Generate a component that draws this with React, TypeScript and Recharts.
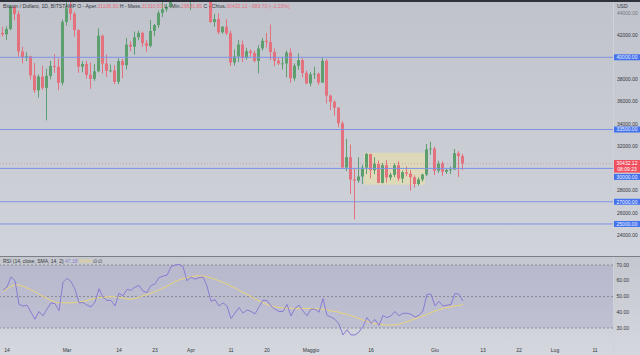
import React from 'react';
import { ComposedChart, Bar, Line, XAxis, YAxis, ReferenceLine, ReferenceArea } from 'recharts';

// Daily candles, 13 Feb 2022 (index 0) .. 8 Jun 2022 (index 115)
const opens = [
  42200, 42060, 42550, 44560, 43890, 40530, 40000, 40090, 38380, 37030, 38260, 37250, 38330, 39230, 39140, 37710,
  43190, 44420, 43920, 42450, 39150, 39400, 38420, 38060, 38740, 41940, 39440, 38790, 38820, 37790, 39670, 39290,
  41140, 40950, 41800, 42200, 41270, 41020, 42370, 42900, 44000, 44330, 44540, 46830, 47130, 47460, 47060,
  45540, 46290, 45820, 46420, 46620, 45500, 43170, 43440, 42250, 42750, 42160, 39530, 40080, 41150, 39940, 40550,
  40390, 39680, 40800, 41490, 41370, 40480, 39700, 39450, 39450, 40430, 38110, 39240, 39740, 38590,
  37650, 38470, 38520, 37720, 39690, 36550, 36000, 35470, 34060, 30080, 31010, 29000, 28900, 29270, 30070, 31300,
  29840, 30420, 28700, 30290, 29180, 29430, 30280, 29090, 29650, 29530, 29200, 28600, 29000, 29450, 31720,
  31790, 29800, 30450, 29700, 29860, 29900, 31370, 31108.3,
];
const highs = [
  42750, 42790, 44730, 44580, 44160, 40950, 40440, 40140, 39480, 38450, 39220, 38980, 39690, 40290, 39880, 43400,
  44950, 45400, 44100, 42530, 39640, 39690, 39530, 39400, 42600, 42040, 40250, 39350, 39290, 39920, 39850, 41720,
  41470, 42320, 42400, 42300, 41540, 43350, 43000, 44200, 45100, 44780, 46900, 48190, 48100, 47700, 47600,
  46700, 47200, 47000, 46880, 47200, 45500, 43900, 43970, 42800, 43420, 42400, 40700, 41550, 41500, 40850, 40710,
  40600, 41100, 41750, 42200, 42950, 40800, 39950, 39930, 40600, 40800, 39450, 40350, 39900, 38800,
  38670, 39150, 38630, 40000, 39840, 36650, 36120, 35500, 34250, 32650, 32150, 30050, 31000, 30330, 31390, 31300,
  31000, 30700, 30500, 30750, 29600, 30450, 30650, 29800, 30180, 29850, 29370, 29200, 29520, 32200,
  32390, 31960, 30680, 30650, 29950, 30180, 31750, 31550, 31310.53,
];
const lows = [
  41870, 41570, 42430, 43330, 40070, 39450, 39650, 38000, 36800, 36370, 37080, 34330, 38020, 38600, 37050, 37470,
  42860, 43360, 41860, 38600, 38650, 38100, 37170, 37880, 38660, 38550, 38240, 38660, 37580, 37590, 38120, 38900,
  40540, 40220, 41530, 40920, 40510, 40890, 41900, 42630, 43620, 44090, 44420, 46680, 46950, 46600, 45200,
  44250, 45650, 45550, 45150, 45400, 43100, 42750, 42100, 42130, 42000, 39200, 39250, 39570, 39580, 39780, 40050,
  39550, 38550, 40600, 40870, 39750, 39200, 39300, 38900, 38200, 37700, 37880, 38880, 38200, 37580,
  37390, 38050, 37510, 37690, 35850, 35260, 34750, 33700, 30050, 29750, 27700, 25400, 28700, 28600, 29500, 29100,
  29480, 28670, 28650, 28720, 28930, 29220, 28860, 28700, 29300, 28000, 28270, 28460, 28810, 29300,
  31220, 29400, 29580, 29330, 29500, 29500, 29880, 29230, 29831.85,
];
const closes = [
  42060, 42550, 44560, 43890, 40530, 40000, 40090, 38380, 37030, 38260, 37250, 38330, 39230, 39140, 37710, 43190,
  44420, 43920, 42450, 39150, 39400, 38420, 38060, 38740, 41940, 39440, 38790, 38820, 37790, 39670, 39290, 41140,
  40950, 41800, 42200, 41270, 41020, 42370, 42900, 44000, 44330, 44540, 46830, 47130, 47460, 47060, 45540,
  46290, 45820, 46420, 46620, 45500, 43170, 43440, 42250, 42750, 42160, 39530, 40080, 41150, 39940, 40550, 40390,
  39680, 40800, 41490, 41370, 40480, 39700, 39450, 39450, 40430, 38110, 39240, 39740, 38590, 37650,
  38470, 38520, 37720, 39690, 36550, 36000, 35470, 34060, 30080, 31010, 29000, 28900, 29270, 30070, 31300, 29840,
  30420, 28700, 30290, 29180, 29430, 30280, 29090, 29650, 29530, 29200, 28600, 29000, 29450, 31720,
  31790, 29800, 30450, 29700, 29860, 29900, 31370, 31108.3, 30432.12,
];
const rsiValues = [
  54, 56, 62.5, 60, 45, 44, 44.5, 40, 35.6, 40.5, 37.7, 42, 46, 45.5, 41, 59,
  61.6, 59.5, 54.7, 46, 46.2, 44.5, 43.4, 46.5, 55, 49.5, 47.5, 47.5, 44, 52, 50.5, 54.5,
  54, 56, 57, 53.5, 52.5, 57, 58, 62, 63, 63.5, 69, 70, 70.5, 69, 60,
  62.4, 61, 62, 62.4, 56.7, 47, 48, 44, 46, 44, 36, 39.5, 43, 39.5, 41.5, 40.5,
  39, 43.4, 47.7, 47.5, 44, 42, 40.5, 40.5, 45, 37.7, 42.5, 44.5, 40.8, 37.7,
  42, 42, 40, 48.7, 38, 37, 35.5, 32.5, 25.6, 29, 25.6, 25.6, 27.5, 31, 36.6, 33,
  35.4, 31.6, 38, 36.6, 37.7, 40.5, 37.7, 39.4, 39.4, 38.8, 37, 38, 40.8, 51.5,
  51.5, 44, 47, 44, 44.5, 45, 52, 51.5, 47.18,
];
const rsiSma = [
  53, 55, 56.5, 57.4, 57.2, 56.5, 55.5, 54.2, 53, 51.5, 50, 48.8, 47.5, 46.5, 46, 46,
  46, 46, 46.2, 46.5, 47, 47.5, 48.3, 48.8, 49.2, 49.5, 49.8, 50, 49.7, 49.4, 49, 48.5,
  48.3, 48.8, 49.5, 50.5, 51.3, 52, 53, 54, 55.3, 56.5, 58, 59.5, 60.5, 61.3, 62,
  62.5, 63, 63.2, 63, 62.5, 61.8, 61, 60, 59, 58, 56.5, 55.5, 54, 52.5, 51.3, 50,
  48.5, 47.3, 46, 45, 44, 43.5, 43, 42.8, 42.6, 42.5, 42.4, 42.4, 42.4, 42.4,
  42.4, 42.3, 42.2, 42, 41.5, 41, 40.5, 40, 39.3, 38.6, 37.8, 37, 36, 35, 34.3, 33.5,
  32.8, 32.3, 32, 31.9, 31.9, 32, 32.5, 33.2, 34, 35, 35.8, 36.8, 37.7, 38.7,
  39.8, 40.8, 41.6, 42.5, 43, 43.5, 44, 44.4, 44.84,
];

const tickIndex = [1, 16, 29, 38, 47, 57, 66, 77, 92, 108, 120, 129, 138, 148];
const tickLabels = ['14', 'Mar', '14', '23', 'Apr', '11', '20', 'Maggio', '16', 'Giu', '13', '22', 'Lug', '11'];
const priceTicks = [24000, 26000, 28000, 32000, 34000, 36000, 38000, 42000, 44000];
const levelLines = [40000, 33500, 30000, 27000, 25000];
const levelLabelShift = [0, 0, 8.5, 0, 0];
const rsiTicks = [30, 40, 50, 60, 70];
const lastPrice = 30432.12;
const lastTime = '08:09:23';
const rangeBox = { fromIdx: 90.25, toIdx: 105.5, low: 28530, high: 31410 };

const rows = opens.map((o, i) => ({
  i, open: o, high: highs[i], low: lows[i], close: closes[i], rsi: rsiValues[i], sma: rsiSma[i],
}));

const GREEN = '#5e9f6f';
const RED = '#e4717e';
const BLUE_LINE = '#7f93e4';
const BLUE_BOX = '#4372ec';
const RED_BOX = '#ef4f5f';
const PURPLE = '#8a7bd3';
const YELLOW = '#e9d47c';
const TEXT = '#34363e';
const FONT = '"Liberation Sans", Arial, sans-serif';
const X_DOMAIN: [number, number] = [-0.75, 152.5];
const PRICE_DOMAIN: [number, number] = [22117, 45157];
const LABEL_X = 617;
const MAIN_W = 640;
const MAIN_H = 256;
const MARGIN = { top: 0, right: 0, bottom: 0, left: 0 };

const Candle = (props: any) => {
  const { x, y, width, height, payload } = props;
  if (!payload || x == null) return null;
  const { open, close, high, low } = payload;
  const top = Math.min(y, y + height);
  const h = Math.abs(height);
  const k = h / (high - low || 1);
  const bTop = top + (high - Math.max(open, close)) * k;
  const bBot = top + (high - Math.min(open, close)) * k;
  const color = close >= open ? GREEN : RED;
  const cx = x + width / 2;
  return (
    <g>
      <line x1={cx} x2={cx} y1={top} y2={top + h} stroke={color} strokeWidth={1} />
      <rect x={x} y={bTop} width={width} height={Math.max(0.8, bBot - bTop)} fill={color} />
    </g>
  );
};

const PriceTick = (props: any) => {
  const { y, payload } = props;
  return (
    <text x={LABEL_X} y={y + 1.7} fontSize={5} fill={TEXT} fontFamily={FONT} opacity={payload.value === 44000 ? 0.55 : 1}>
      {payload.value.toFixed(2)}
    </text>
  );
};

const RsiTick = (props: any) => {
  const { y, payload } = props;
  return (
    <text x={LABEL_X - 0.5} y={y + 1.7} fontSize={5} fill={TEXT} fontFamily={FONT}>
      {payload.value.toFixed(2)}
    </text>
  );
};

const DateTick = (props: any) => {
  const { x, payload } = props;
  const idx = tickIndex.indexOf(payload.value);
  return (
    <text x={x} y={95.8} fontSize={5} fill={TEXT} fontFamily={FONT} textAnchor="middle">
      {tickLabels[idx]}
    </text>
  );
};

const BoxLabel = (props: any) => {
  const { viewBox, text, shift = 0 } = props;
  if (!viewBox) return null;
  const bx = viewBox.x + viewBox.width + 1;
  const by = viewBox.y + shift;
  return (
    <g>
      <rect x={bx} y={by - 3} width={26} height={6} fill={BLUE_BOX} />
      <text x={bx + 13} y={by + 1.8} fontSize={5} fill="#eef2ff" fontFamily={FONT} textAnchor="middle">{text}</text>
    </g>
  );
};

const LastLabel = (props: any) => {
  const { viewBox } = props;
  if (!viewBox) return null;
  const bx = viewBox.x + viewBox.width + 1;
  const by = viewBox.y;
  return (
    <g>
      <rect x={bx} y={by - 3.6} width={26} height={12.6} fill={RED_BOX} />
      <text x={bx + 13} y={by + 1.8} fontSize={5} fill="#fff" fontFamily={FONT} textAnchor="middle">{lastPrice.toFixed(2)}</text>
      <text x={bx + 13} y={by + 7.4} fontSize={5} fill="#fff" fontFamily={FONT} textAnchor="middle">{lastTime}</text>
    </g>
  );
};

export default function App() {
  return (
    <div style={{ position: 'fixed', left: 0, top: 0, width: 640, height: 355, overflow: 'hidden', background: '#d2d5db' }}>
      <div style={{ position: 'absolute', left: 0, top: 0, width: 640, height: 256, background: 'linear-gradient(#c0c3cb, #d0d3d9)' }} />
      <div style={{ position: 'absolute', left: 0, top: 256, width: 640, height: 99, background: 'linear-gradient(#c4c7ce, #d4d7dd)' }} />
      <div style={{ position: 'absolute', left: 613, top: 0, width: 1, height: 355, background: '#cfd2d8' }} />
      {/* background layer: range box */}
      <div style={{ position: 'absolute', left: 0, top: 0 }}>
        <ComposedChart width={MAIN_W} height={MAIN_H} data={rows} margin={MARGIN}>
          <XAxis dataKey="i" type="number" domain={X_DOMAIN} allowDataOverflow hide />
          <YAxis orientation="right" width={27} domain={PRICE_DOMAIN} allowDataOverflow ticks={priceTicks}
            tick={false} axisLine={false} tickLine={false} />
          <ReferenceArea x1={rangeBox.fromIdx} x2={rangeBox.toIdx} y1={rangeBox.low} y2={rangeBox.high}
            fill="#ece1a2" fillOpacity={0.55} stroke="none" />
        </ComposedChart>
      </div>
      {/* candles, levels, price axis */}
      <div style={{ position: 'absolute', left: 0, top: 0 }}>
        <ComposedChart width={MAIN_W} height={MAIN_H} data={rows} margin={MARGIN}>
          <XAxis dataKey="i" type="number" domain={X_DOMAIN} allowDataOverflow hide />
          <YAxis orientation="right" width={27} domain={PRICE_DOMAIN} allowDataOverflow ticks={priceTicks}
            interval={0} tick={<PriceTick />} axisLine={false} tickLine={false} />
          {levelLines.map((v, k) => (
            <ReferenceLine key={v} y={v} stroke={BLUE_LINE} strokeWidth={1}
              label={<BoxLabel text={v.toFixed(2)} shift={levelLabelShift[k]} />} />
          ))}
          <ReferenceLine y={lastPrice} stroke="#d98a95" strokeOpacity={0.6} strokeDasharray="1 2" label={<LastLabel />} />
          <Bar dataKey={(d: any) => [d.low, d.high]} shape={<Candle />} barSize={3} isAnimationActive={false} />
        </ComposedChart>
      </div>
      <div style={{ position: 'absolute', left: 0, top: 256 }}>
        <ComposedChart width={640} height={99} data={rows} margin={{ top: 1, right: 0, bottom: 0, left: 0 }}>
          <XAxis dataKey="i" type="number" domain={X_DOMAIN} allowDataOverflow ticks={tickIndex} interval={0}
            tick={<DateTick />} axisLine={false} tickLine={false} height={15} />
          <YAxis orientation="right" width={27} domain={[22.4, 75.1]} allowDataOverflow ticks={rsiTicks}
            interval={0} tick={<RsiTick />} axisLine={false} tickLine={false} />
          <ReferenceArea y1={30} y2={70} fill="#9d97c4" fillOpacity={0.32} stroke="none" />
          {[70, 50, 30].map((v) => (
            <ReferenceLine key={v} y={v} stroke="#7e8089" strokeDasharray="2 2" strokeWidth={0.8} />
          ))}
          <Line dataKey="sma" type="linear" stroke={YELLOW} strokeWidth={1} dot={false} isAnimationActive={false} />
          <Line dataKey="rsi" type="linear" stroke={PURPLE} strokeWidth={1} dot={false} isAnimationActive={false} />
        </ComposedChart>
      </div>
      <div style={{ position: 'absolute', left: 0, top: 255.5, width: 640, height: 1, background: '#7c7f88' }} />
      <div style={{ position: 'absolute', left: 0, top: 0, width: 640, height: 2, background: '#2f323b' }} />
      <svg width={640} height={355} style={{ position: 'absolute', left: 0, top: 0, pointerEvents: 'none' }}>
        <text x={3} y={8.4} fontSize={5.1} fontFamily={FONT} fill={TEXT}>
          <tspan>Bitcoin / Dollaro, 1D, BITSTAMP  O - Aper.</tspan>
          <tspan fill={RED}>31108.30</tspan>
          <tspan>  H - Mass.</tspan>
          <tspan fill={RED}>31310.53</tspan>
          <tspan>  L - Min.</tspan>
          <tspan fill={RED}>29831.85</tspan>
          <tspan>  C - Chius.</tspan>
          <tspan fill={RED}>30432.12  −683.70 (−2.20%)</tspan>
        </text>
        <text x={LABEL_X} y={8.4} fontSize={5} fontFamily={FONT} fill={TEXT}>USD</text>
        <text x={3} y={263.4} fontSize={5} fontFamily={FONT} fill={TEXT}>
          <tspan>RSI (14, close, SMA, 14, 2)  </tspan>
          <tspan fill={PURPLE}>47.18</tspan>
          <tspan>  </tspan>
          <tspan fill={YELLOW}>44.84</tspan>
          <tspan>  ∅  ∅</tspan>
        </text>
      </svg>
    </div>
  );
}
